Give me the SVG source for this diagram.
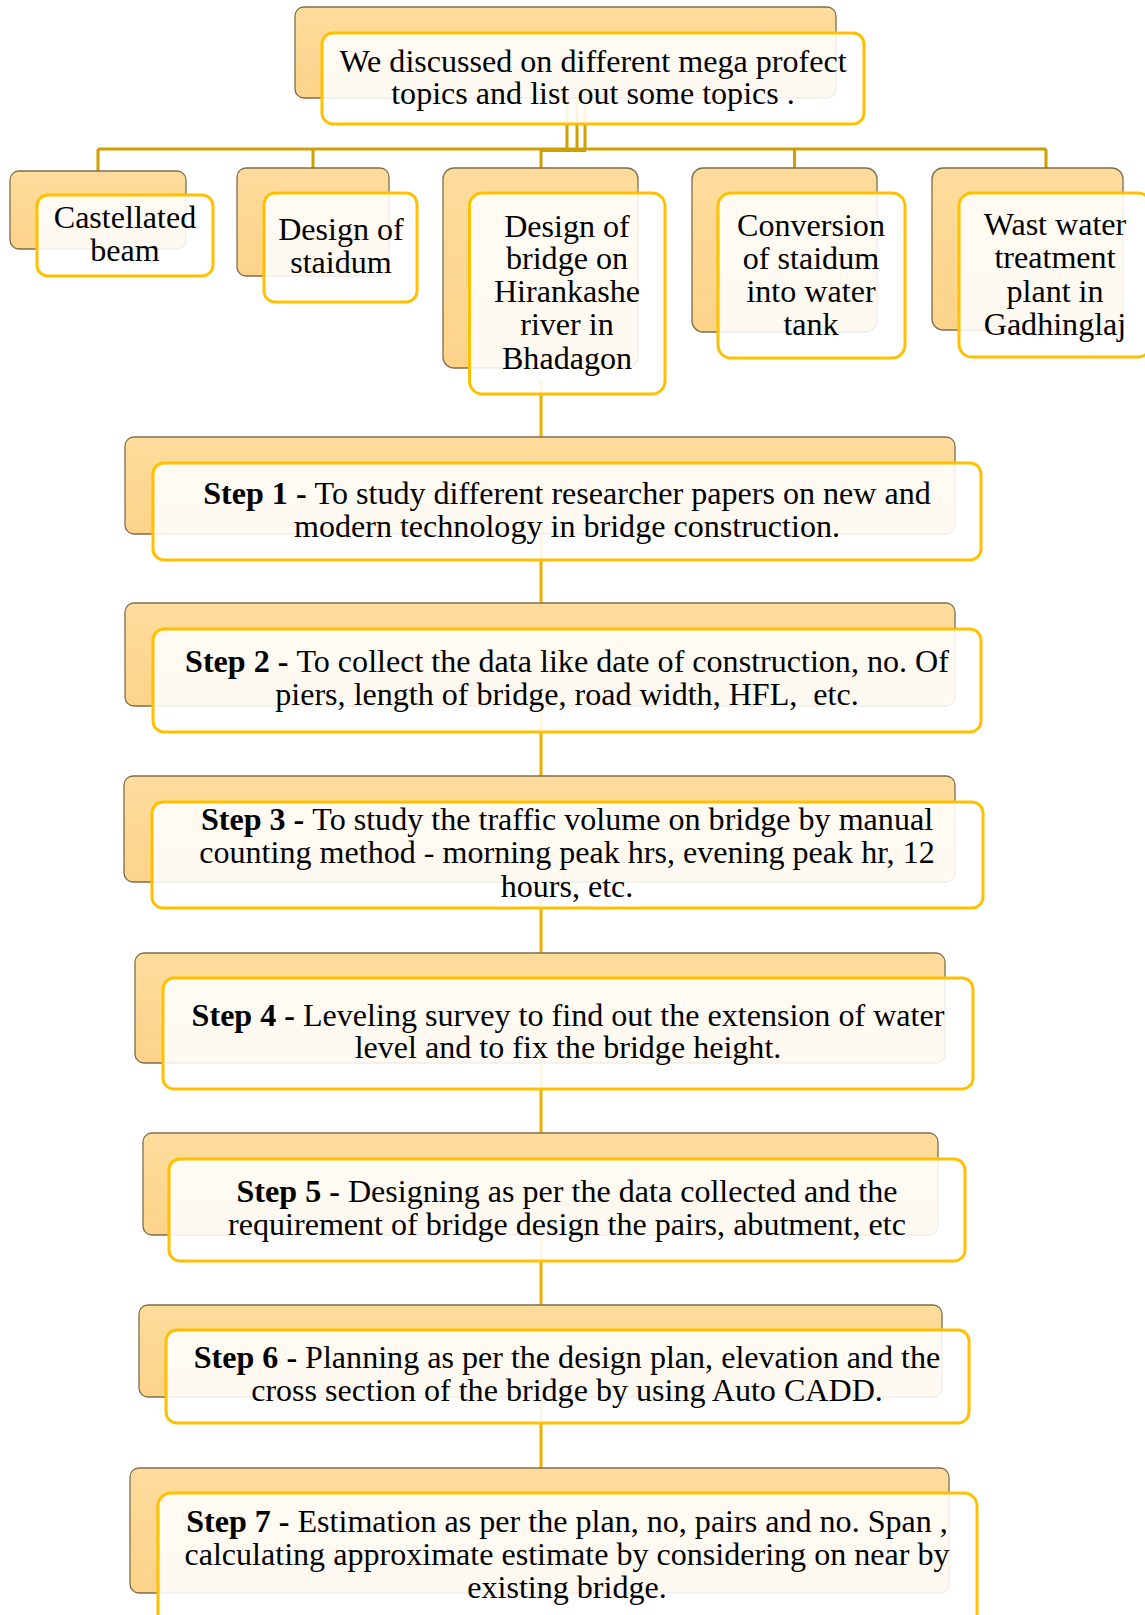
<svg xmlns="http://www.w3.org/2000/svg" width="1145" height="1615" viewBox="0 0 1145 1615">
<defs>
<linearGradient id="bg" x1="0" y1="0" x2="0" y2="1">
<stop offset="0" stop-color="#FDDC9C"/>
<stop offset="1" stop-color="#FCD389"/>
</linearGradient>
<style>
.back{fill:url(#bg);stroke:#7F6E4E;stroke-width:1.3}
.front{fill:#FFFFFF;fill-opacity:0.88;stroke:#FFC000;stroke-width:3}
.t{font-family:"Liberation Serif","Times New Roman",serif;font-size:32.1px;fill:#000;text-anchor:middle;white-space:pre}
.b{font-weight:bold}
.c1{fill:none;stroke:#D1A000;stroke-width:3}
.c2{fill:none;stroke:#EDB000;stroke-width:3}
</style>
</defs>
<rect width="1145" height="1615" fill="#FFFFFF"/>

<g id="connectors">
<path class="c1" d="M567 100V149M577 100V149M585 100V149"/>
<path class="c1" d="M98 149H1046"/>
<path class="c1" d="M540 150.5H586" stroke-width="2"/>
<path class="c1" d="M98 149V171M313 149V168M541 149V168M794.5 149V168M1046 149V168"/>
<path class="c2" d="M541 380V1600"/>
</g>

<g id="topic-root">
<rect class="back" x="295" y="7" width="541" height="91" rx="9"/>
<rect class="front" x="322" y="33" width="542" height="91" rx="11"/>
<text class="t" x="593" y="72">We discussed on different mega profect</text>
<text class="t" x="593" y="104">topics and list out some topics .</text>
</g>

<g id="castellated-beam">
<rect class="back" x="10" y="171" width="176" height="78" rx="9"/>
<rect class="front" x="37" y="195" width="176" height="81" rx="11"/>
<text class="t" x="125" y="228">Castellated</text>
<text class="t" x="125" y="261">beam</text>
</g>

<g id="design-staidum">
<rect class="back" x="237" y="168" width="152" height="108" rx="9"/>
<rect class="front" x="264" y="193" width="153" height="109" rx="11"/>
<text class="t" x="341" y="240">Design of</text>
<text class="t" x="341" y="273">staidum</text>
</g>

<g id="design-bridge">
<rect class="back" x="443" y="168" width="195" height="200" rx="11"/>
<rect class="front" x="469.5" y="193" width="195.5" height="201" rx="13"/>
<text class="t" x="567" y="237">Design of</text>
<text class="t" x="567" y="269">bridge on</text>
<text class="t" x="567" y="302">Hirankashe</text>
<text class="t" x="567" y="335">river in</text>
<text class="t" x="567" y="369">Bhadagon</text>
</g>

<g id="conversion">
<rect class="back" x="692" y="168" width="185" height="164" rx="11"/>
<rect class="front" x="718" y="193" width="187" height="165" rx="13"/>
<text class="t" x="811" y="236">Conversion</text>
<text class="t" x="811" y="269">of staidum</text>
<text class="t" x="811" y="302">into water</text>
<text class="t" x="811" y="335">tank</text>
</g>

<g id="waste-water">
<rect class="back" x="932" y="168" width="191" height="162" rx="11"/>
<rect class="front" x="959" y="193" width="192" height="164" rx="13"/>
<text class="t" x="1055" y="235">Wast water</text>
<text class="t" x="1055" y="268">treatment</text>
<text class="t" x="1055" y="302">plant in</text>
<text class="t" x="1055" y="335">Gadhinglaj</text>
</g>

<g id="step1">
<rect class="back" x="125" y="437" width="830" height="97" rx="9"/>
<rect class="front" x="153" y="463" width="828" height="97" rx="11"/>
<text class="t" x="567" y="504"><tspan class="b">Step 1 - </tspan>To study different researcher papers on new and</text>
<text class="t" x="567" y="537">modern technology in bridge construction.</text>
</g>

<g id="step2">
<rect class="back" x="125" y="603" width="830" height="103" rx="9"/>
<rect class="front" x="153" y="629" width="828" height="103" rx="11"/>
<text class="t" x="567" y="672"><tspan class="b">Step 2 - </tspan>To collect the data like date of construction, no. Of</text>
<text class="t" x="567" y="705" xml:space="preserve">piers, length of bridge, road width, HFL,  etc.</text>
</g>

<g id="step3">
<rect class="back" x="124" y="776" width="831" height="106" rx="9"/>
<rect class="front" x="152" y="802" width="831" height="106" rx="11"/>
<text class="t" x="567" y="830"><tspan class="b">Step 3 - </tspan>To study the traffic volume on bridge by manual</text>
<text class="t" x="567" y="863">counting method - morning peak hrs, evening peak hr, 12</text>
<text class="t" x="567" y="897">hours, etc.</text>
</g>

<g id="step4">
<rect class="back" x="135" y="953" width="810" height="110" rx="9"/>
<rect class="front" x="163" y="978" width="810" height="111" rx="11"/>
<text class="t" x="568" y="1026"><tspan class="b">Step 4 - </tspan>Leveling survey to find out the extension of water</text>
<text class="t" x="568" y="1058">level and to fix the bridge height.</text>
</g>

<g id="step5">
<rect class="back" x="143" y="1133" width="795" height="102" rx="9"/>
<rect class="front" x="169" y="1159" width="796" height="102" rx="11"/>
<text class="t" x="567" y="1202"><tspan class="b">Step 5 - </tspan>Designing as per the data collected and the</text>
<text class="t" x="567" y="1235">requirement of bridge design the pairs, abutment, etc</text>
</g>

<g id="step6">
<rect class="back" x="139" y="1305" width="803" height="92" rx="9"/>
<rect class="front" x="166" y="1330" width="803" height="93" rx="11"/>
<text class="t" x="567" y="1368"><tspan class="b">Step 6 - </tspan>Planning as per the design plan, elevation and the</text>
<text class="t" x="567" y="1401">cross section of the bridge by using Auto CADD.</text>
</g>

<g id="step7">
<rect class="back" x="130" y="1468" width="819" height="125" rx="9"/>
<rect class="front" x="158" y="1493" width="819" height="135" rx="13"/>
<text class="t" x="567" y="1532"><tspan class="b">Step 7 - </tspan>Estimation as per the plan, no, pairs and no. Span ,</text>
<text class="t" x="567" y="1565">calculating approximate estimate by considering on near by</text>
<text class="t" x="567" y="1598">existing bridge.</text>
</g>
</svg>
